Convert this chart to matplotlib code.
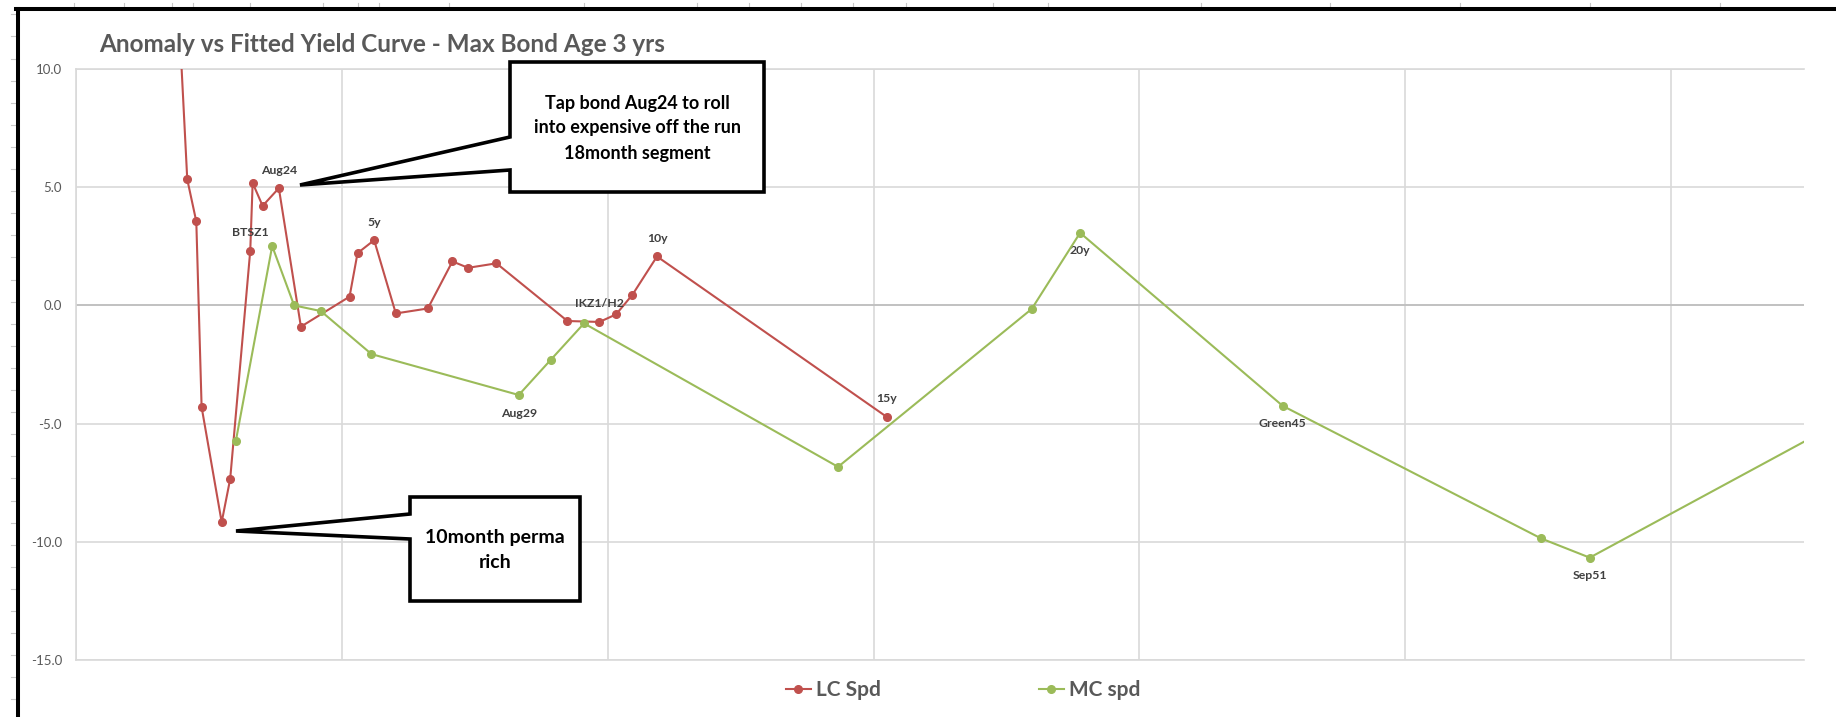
import matplotlib.pyplot as plt
from matplotlib.patches import Polygon
from matplotlib.lines import Line2D
from matplotlib.ticker import MultipleLocator

plt.rcParams['font.family'] = ['Lato', 'DejaVu Sans']

W, H = 1836, 717

# bond maturity as Excel date serial, anomaly vs fitted curve (bp)
lc_maturity = [44686, 44837, 44905, 44945, 45096, 45160, 45311, 45329, 45404,
               45526, 45692, 46058, 46118, 46243, 46406, 46647, 46832, 46950,
               47163, 47697, 47938, 48063, 48186, 48371, 50100]
lc_spd = [22.0, 5.33, 3.55, -4.30, -9.17, -7.34, 2.32, 5.18, 4.21,
          4.96, -0.90, 0.37, 2.21, 2.76, -0.34, -0.13, 1.86, 1.59,
          1.78, -0.66, -0.70, -0.38, 0.45, 2.07, -4.72]
lc_labels = ['', '', '', '', '', '', 'BTSZ1', '', '',
             'Aug24', '', '', '', '5y', '', '', '', '',
             '', '', 'IKZ1/H2', '', '', '10y', '15y']

mc_maturity = [45203, 45476, 45641, 45842, 46223, 47331, 47572, 47822,
               49733, 51190, 51554, 53078, 55023, 55388, 57489]
mc_spd = [-5.72, 2.51, 0.00, -0.24, -2.06, -3.79, -2.30, -0.76,
          -6.83, -0.15, 3.07, -4.25, -9.86, -10.67, -4.28]
mc_labels = ['', '', '', '', '', 'Aug29', '', '', '',
             '', '20y', 'Green45', '', 'Sep51', '']

y_ticks = [10, 5, 0, -5, -10, -15]

note_roll = ['Tap bond Aug24 to roll', 'into expensive off the run', '18month segment']
note_rich = ['10month perma', 'rich']

RED = '#C0504D'
GREEN = '#9BBB59'
GRID = '#D9D9D9'
TXT = '#595959'


def fx(x, y):
    # pixel position (origin top-left) -> figure fraction
    return x / W, 1 - y / H


fig = plt.figure(figsize=(W / 100, H / 100), dpi=100)
ax = fig.add_axes([76 / W, 1 - 660 / H, (1804 - 76) / W, (660 - 69) / H])

ax.plot(lc_maturity, lc_spd, color=RED, lw=1.5, marker='o', ms=5.5, label='LC Spd', zorder=3)
ax.plot(mc_maturity, mc_spd, color=GREEN, lw=1.5, marker='o', ms=5.5, label='MC spd', zorder=4)

for x, y, s in zip(lc_maturity, lc_spd, lc_labels):
    if s:
        ax.annotate(s, (x, y), xytext=(0, 13), textcoords='offset points', ha='center',
                    va='center', fontsize=8.8, weight='bold', color='#404040')
for x, y, s in zip(mc_maturity, mc_spd, mc_labels):
    if s:
        ax.annotate(s, (x, y), xytext=(0, -13), textcoords='offset points', ha='center',
                    va='center', fontsize=8.8, weight='bold', color='#404040')

ax.set_xlim(44000, 57000)
ax.set_ylim(-15, 10)
ax.xaxis.set_major_locator(MultipleLocator(2000))
ax.set_xticklabels([])
ax.set_yticks(y_ticks)
ax.set_yticklabels([f'{v:.1f}' for v in y_ticks])
ax.tick_params(length=0, labelsize=9.5, labelcolor=TXT, pad=10)
ax.grid(True, color=GRID, lw=1.2, zorder=0)
ax.set_axisbelow(True)
ax.axhline(0, color='#BFBFBF', lw=1.3, zorder=1)
for side in ['top', 'bottom', 'left']:
    ax.spines[side].set_color(GRID)
    ax.spines[side].set_linewidth(1.2)
ax.spines['right'].set_visible(False)

fig.text(*fx(99, 45), 'Anomaly vs Fitted Yield Curve - Max Bond Age 3 yrs',
         ha='left', va='center', fontsize=17.5, weight='bold', color=TXT)

# callout boxes with pointer wedge
callout1 = [(510, 62), (764, 62), (764, 192), (510, 192), (510, 170), (300, 185), (510, 137)]
callout2 = [(410, 497), (580, 497), (580, 601), (410, 601), (410, 539), (236, 531), (410, 514)]
for pts in (callout1, callout2):
    fig.add_artist(Polygon([fx(x, y) for x, y in pts], closed=True, transform=fig.transFigure,
                           facecolor='white', edgecolor='black', lw=2.6, joinstyle='miter', zorder=10))

for i, line in enumerate(note_roll):
    fig.text(*fx(637, 103 + 25 * i), line, ha='center', va='center', fontsize=13,
             weight='bold', color='black', zorder=11)
for i, line in enumerate(note_rich):
    fig.text(*fx(495, 537 + 26 * i), line, ha='center', va='center', fontsize=14,
             weight='bold', color='black', zorder=11)

# sheet row / column markers left of and above the chart frame
for k in range(32):
    yk = 14.3 + 22.1 * k
    fig.add_artist(Line2D([11 / W, 15 / W], [1 - yk / H] * 2, color='#C8C8C8', lw=0.8,
                          transform=fig.transFigure))
for xc in [74, 124, 172, 193, 250, 323, 358, 379, 449, 584, 697, 749, 801, 853, 906,
           993, 1048, 1201, 1330, 1460, 1590, 1720]:
    fig.add_artist(Line2D([xc / W] * 2, [1 - 3 / H, 1 - 7 / H], color='#C8C8C8', lw=0.8,
                          transform=fig.transFigure))

# selection frame around the chart
fig.add_artist(Line2D([18 / W, 18 / W], [0, 1 - 9.3 / H], color='black', lw=2.9,
                      transform=fig.transFigure))
fig.add_artist(Line2D([16 / W, 1], [1 - 9.3 / H, 1 - 9.3 / H], color='black', lw=2.9,
                      transform=fig.transFigure))

handles = [Line2D([], [], color=RED, lw=1.5, marker='o', ms=5.5),
           Line2D([], [], color=GREEN, lw=1.5, marker='o', ms=5.5)]
fig.legend(handles, ['LC Spd', 'MC spd'], loc='center', bbox_to_anchor=fx(963, 690),
           ncol=2, frameon=False, handlelength=1.2, handletextpad=0.25,
           columnspacing=7.6, prop={'weight': 'bold', 'size': 15}, labelcolor=TXT)

fig.savefig('out.png', dpi=100)
